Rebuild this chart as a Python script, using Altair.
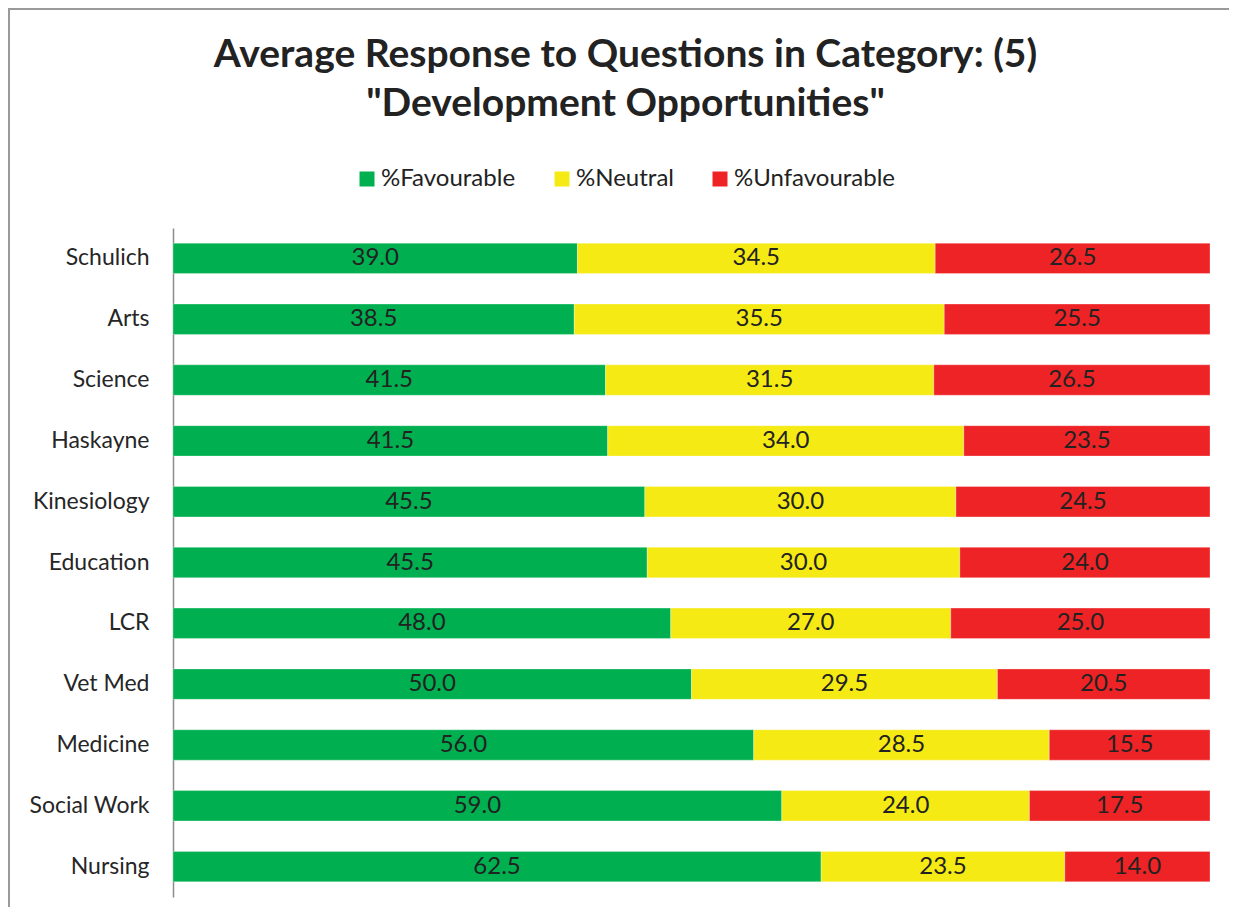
import altair as alt
import pandas as pd

categories = ["Schulich", "Arts", "Science", "Haskayne", "Kinesiology", "Education",
              "LCR", "Vet Med", "Medicine", "Social Work", "Nursing"]
favourable = [39.0, 38.5, 41.5, 41.5, 45.5, 45.5, 48.0, 50.0, 56.0, 59.0, 62.5]
neutral = [34.5, 35.5, 31.5, 34.0, 30.0, 30.0, 27.0, 29.5, 28.5, 24.0, 23.5]
unfavourable = [26.5, 25.5, 26.5, 23.5, 24.5, 24.0, 25.0, 20.5, 15.5, 17.5, 14.0]
series = ["%Favourable", "%Neutral", "%Unfavourable"]
colors = ["#00B050", "#F5EA14", "#EE2326"]

rows = []
for i, c in enumerate(categories):
    for j, (s, v) in enumerate(zip(series, [favourable[i], neutral[i], unfavourable[i]])):
        rows.append({"category": c, "series": s, "value": v, "order": j})
df = pd.DataFrame(rows)

FONT = "Lato"

base = alt.Chart(df).transform_stack(
    stack="value", groupby=["category"], as_=["x0", "x1"], offset="normalize",
    sort=[alt.SortField("order", order="ascending")]
).transform_calculate(mid="(datum.x0 + datum.x1) / 2")

xscale = alt.Scale(domain=[0, 1], nice=False, zero=True)
yenc = alt.Y("category:N", sort=categories,
             scale=alt.Scale(paddingInner=0.5, paddingOuter=0.25),
             axis=alt.Axis(title=None, ticks=False, labelFontSize=23, labelPadding=24,
                           labelColor="#262626", labelFont=FONT, domainColor="#8c8c8c",
                           domainWidth=1.5, grid=False))

bars = base.mark_bar(stroke="white", strokeWidth=0.6, strokeOpacity=0.5).encode(
    x=alt.X("x0:Q", scale=xscale, axis=None),
    x2="x1:Q",
    y=yenc,
    color=alt.Color("series:N", scale=alt.Scale(domain=series, range=colors),
                    legend=alt.Legend(title=None, orient="none", legendX=182, legendY=-61,
                                      direction="horizontal", symbolType="square",
                                      symbolSize=225, symbolStrokeWidth=0,
                                      labelFontSize=24, labelFont=FONT, labelColor="#222222",
                                      labelOffset=2, columnPadding=34, labelLimit=400)),
)

text = base.mark_text(fontSize=24, color="#222222", font=FONT).encode(
    x=alt.X("mid:Q", scale=xscale, axis=None),
    y=alt.Y("category:N", sort=categories),
    text=alt.Text("value:Q", format=".1f"),
)

border_left = alt.Chart(pd.DataFrame({"a": [0]})).mark_rule(color="#9a9a9a", strokeWidth=2).encode(
    x=alt.value(-164), y=alt.value(-220), y2=alt.value(700))
border_top = alt.Chart(pd.DataFrame({"a": [0]})).mark_rule(color="#9a9a9a", strokeWidth=2).encode(
    x=alt.value(-164), x2=alt.value(1060), y=alt.value(-219))

chart = alt.layer(border_left, border_top, bars, text).properties(
    width=1037, height=669,
    title=alt.TitleParams(
        ["Average Response to Questions in Category: (5)", '"Development Opportunities"'],
        fontSize=39, font=FONT, fontWeight="bold", color="#222222",
        anchor="middle", dx=-66, offset=-117, lineHeight=49),
    autosize=alt.AutoSizeParams(type="none"),
    padding={"left": 165, "top": 220, "right": 19, "bottom": 10},
).configure(background="white").configure_view(stroke=None, strokeWidth=0)

chart.save("out.html", embed_options={"renderer": "svg", "actions": False})
